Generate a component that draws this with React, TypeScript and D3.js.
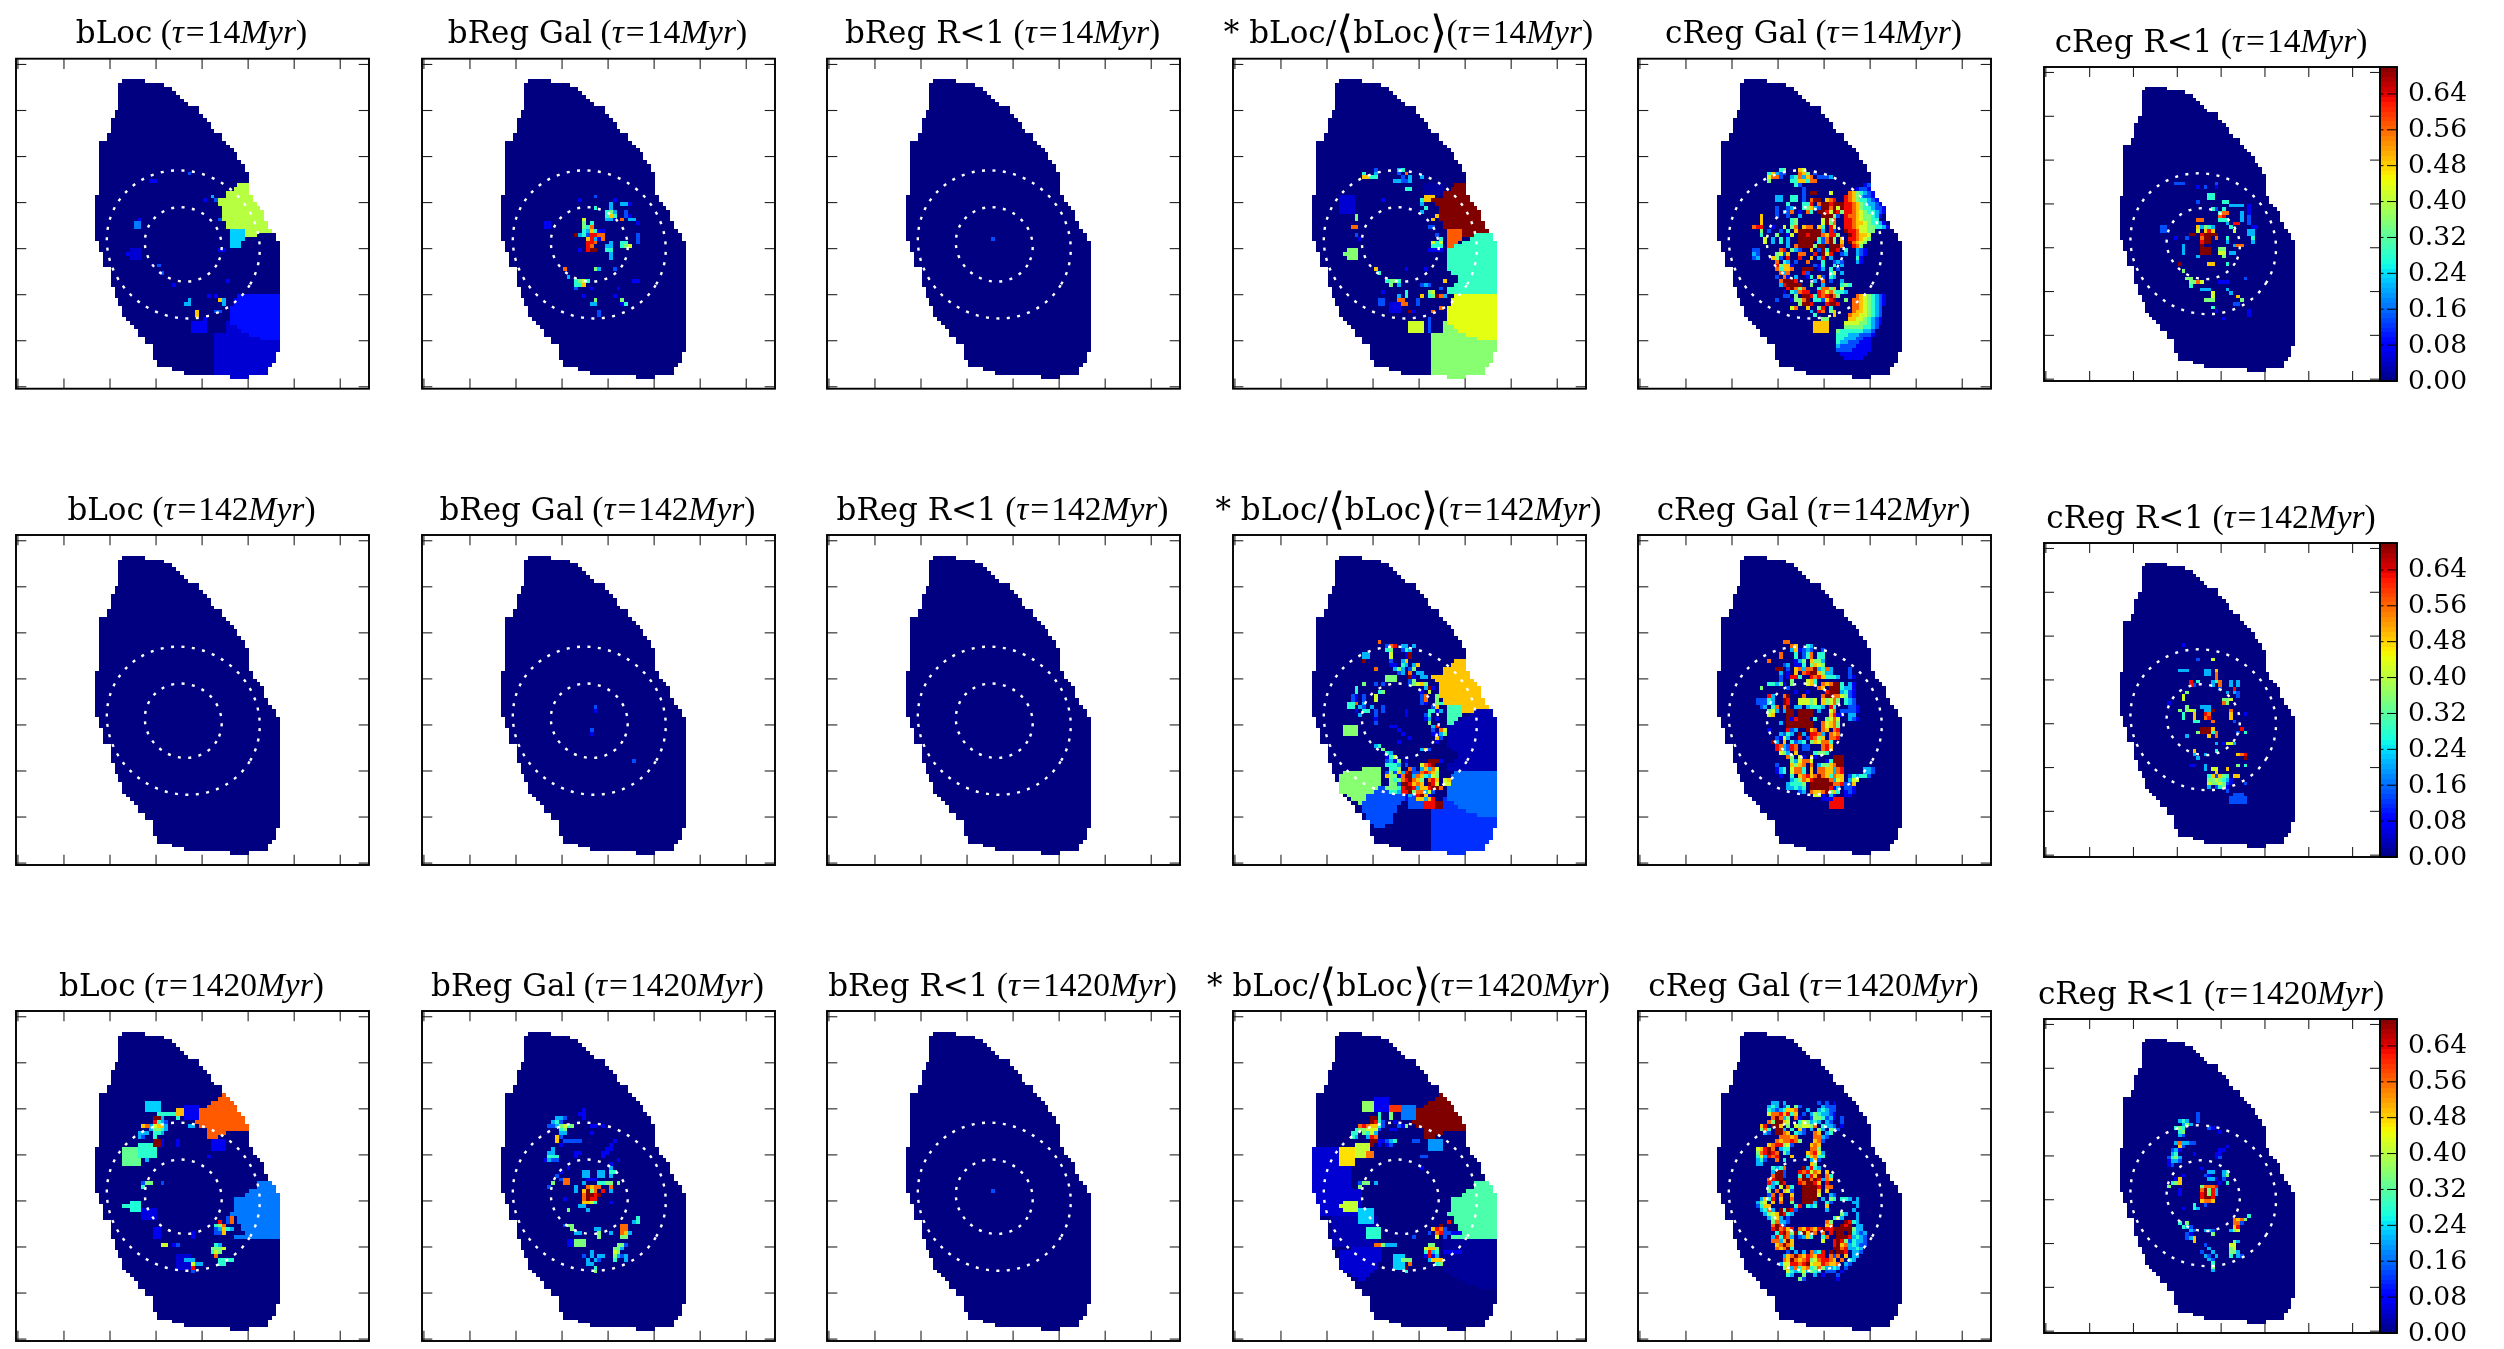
import React from "react";
import * as d3 from "d3";

// ---------- labels ----------
const panelNames = ["bLoc", "bReg Gal", "bReg R<1", "* bLoc/\u27E8bLoc\u27E9", "cReg Gal", "cReg R<1"];
const tauLabels = ["14", "142", "1420"];
const colorbarTicks = [0, 0.08, 0.16, 0.24, 0.32, 0.4, 0.48, 0.56, 0.64];

// ---------- galaxy footprint: first column / end column per row, from row 5 ----------
const FIRST_ROW = 5;
const maskLeft = [27, 26, 26, 26, 26, 26, 26, 26, 25, 25, 24, 24, 24, 24, 23, 23, 21, 21, 21, 21, 21, 21, 21, 21, 21, 21, 21, 21, 21, 21, 20, 20, 20, 20, 20, 20, 20, 20, 20, 20, 20, 20, 21, 21, 21, 22, 22, 22, 22, 24, 24, 24, 24, 24, 25, 25, 25, 26, 26, 27, 27, 27, 28, 29, 30, 31, 31, 33, 33, 35, 35, 35, 35, 36, 36, 40, 43, 55];
const maskRight = [33, 38, 40, 41, 42, 43, 44, 47, 47, 48, 49, 50, 50, 51, 53, 53, 54, 55, 56, 57, 57, 58, 59, 59, 60, 60, 60, 60, 60, 60, 61, 61, 62, 63, 64, 64, 64, 65, 65, 66, 67, 67, 68, 68, 68, 68, 68, 68, 68, 68, 68, 68, 68, 68, 68, 68, 68, 68, 68, 68, 68, 68, 68, 68, 68, 68, 68, 68, 68, 68, 68, 67, 67, 67, 66, 65, 65, 60];

// ---------- binned regions (row, first col, last col) ----------
type Span = [number, number, number];
const regTopRight: Span[] = [[32, 57, 59], [33, 56, 60], [34, 54, 60], [35, 54, 61], [36, 51, 61], [37, 52, 62], [38, 53, 63], [39, 53, 63], [40, 53, 64], [41, 53, 64], [42, 54, 65], [43, 54, 65], [44, 59, 65], [45, 59, 61]];
const regSmall: Span[] = [[44, 55, 58], [45, 55, 58], [46, 55, 58], [47, 55, 57], [48, 55, 57]];
const regRight: Span[] = [[45, 62, 68], [46, 61, 68], [47, 59, 68], [48, 57, 68], [49, 55, 68], [50, 55, 68], [51, 55, 68], [52, 55, 68], [53, 55, 68], [54, 55, 68], [55, 56, 68], [56, 58, 68], [57, 58, 68], [58, 57, 68], [59, 55, 68], [60, 55, 68]];
const regLowRight: Span[] = [[61, 57, 68], [62, 56, 68], [63, 56, 68], [64, 55, 68], [65, 55, 68], [66, 55, 68], [67, 55, 68], [68, 55, 68], [69, 57, 68], [70, 58, 68], [71, 60, 68], [72, 63, 68]];
const regBottom: Span[] = [[68, 54, 54], [69, 54, 56], [70, 54, 57], [71, 51, 59], [72, 51, 62], [73, 51, 68], [74, 51, 68], [75, 51, 68], [76, 51, 68], [77, 51, 68], [78, 51, 68], [79, 51, 68], [80, 51, 68], [81, 51, 68], [82, 51, 68]];
const regLeftBlob: Span[] = [[60, 33, 37], [61, 28, 37], [62, 27, 37], [63, 27, 37], [64, 27, 37], [65, 27, 36], [66, 27, 36], [67, 29, 35], [68, 30, 34], [69, 32, 33], [70, 33, 33]];
const regLowBlue: Span[] = [[65, 37, 42], [66, 36, 45], [67, 34, 48], [68, 34, 46], [69, 33, 42], [70, 33, 41], [71, 33, 41], [72, 34, 40], [73, 34, 40], [74, 34, 40], [75, 36, 38]];
const regTop1420: Span[] = [[21, 53, 53], [22, 52, 54], [23, 50, 55], [24, 49, 56], [25, 47, 57], [26, 46, 58], [27, 46, 59], [28, 46, 59], [29, 47, 60], [30, 49, 60], [31, 49, 53], [32, 49, 51]];
const regRight1420: Span[] = [[44, 62, 67], [45, 62, 67], [46, 60, 68], [47, 59, 68], [48, 56, 68], [49, 56, 68], [50, 56, 68], [51, 56, 68], [52, 55, 68], [53, 57, 68], [54, 57, 68], [55, 58, 68], [56, 58, 68], [57, 59, 68], [58, 56, 68]];
const regLeft1420: Span[] = [[35, 20, 26], [36, 20, 26], [37, 20, 26], [38, 20, 30], [39, 20, 30], [40, 20, 29], [41, 20, 29], [42, 20, 29], [43, 20, 29], [44, 20, 29], [45, 20, 29], [46, 20, 32], [47, 20, 32], [48, 20, 32], [49, 20, 32], [50, 21, 32], [51, 22, 32], [52, 22, 32]];
const regLow1420: Span[] = [[61, 30, 37], [62, 27, 37], [63, 27, 37], [64, 27, 37], [65, 27, 36], [66, 27, 36], [67, 28, 35], [68, 30, 34], [69, 32, 33]];
const regWide1420: Span[] = [[59, 54, 68], [60, 54, 68], [61, 54, 68], [62, 54, 68], [63, 54, 68], [64, 54, 68], [65, 54, 68], [66, 54, 68], [67, 54, 68], [68, 56, 68], [69, 58, 68], [70, 60, 68], [71, 63, 68]];
const box = (r0: number, r1: number, c0: number, c1: number): Span[] =>
  d3.range(r0, r1 + 1).map((r) => [r, c0, c1] as Span);

type Patch = [number, Span[]];

// ---------- cell readings: "row col:levels ..." levels 1..9,a ----------
const bLoc14Patches: Patch[] = [[0.095, regLowRight], [0.05, regBottom], [0.4, regTopRight], [0.23, regSmall], [0.07, box(68, 70, 45, 48)], [0.17, box(42, 43, 30, 31)], [0.05, box(49, 51, 29, 31)]];
const bLoc14 = ["29 44:2", "31 34:11", "35 50:3", "36 48:1 51:2", "41 31:1 52:2", "50 28:1", "49 52:11", "53 36:2", "55 37:2", "58 40:1", "57 54:1", "61 49:1 51:1", "62 44:3 52:73 56:1", "63 43:33 53:3", "65 46:7 51:22", "66 46:7", "67 48:1"];

const bReg14 = ["35 44:2", "36 40:1 49:1", "37 48:3 51:33 53:1", "38 44:4 48:3", "39 47:453 52:2", "40 47:474 52:2 53:1", "41 41:6 47:33 49:1 51:8 53:33", "42 31:11 41:5 43:4 55:1", "43 31:11 41:5 42:4 43:8", "44 41:43741 46:1", "45 39:a 40:342 43:9988 55:2", "46 42:7931 46:8 55:2", "47 42:998 48:3 51:44 55:2", "48 42:98 47:33 51:456", "49 42:9aa 47:44 40:1", "50 48:3", "51 48:3", "54 36:8 44:53 49:2", "56 37:3", "57 39:4564 54:11", "58 39:447", "59 39:2 50:1 43:1", "61 41:1 49:1", "62 44:5 51:5", "63 43:33 52:4 51:1", "65 45:2", "66 45:2"];

const bRegR14 = ["46 42:2"];

const ratio14Patches: Patch[] = [[0.7, regTopRight], [0.57, regSmall], [0.29, regRight], [0.36, regBottom], [0.44, regLowRight], [0.36, box(49, 51, 29, 31)], [0.05, box(35, 39, 27, 30)], [0.06, box(63, 65, 40, 42)], [0.42, box(68, 70, 45, 48)], [0.02, box(32, 34, 49, 53)]];
const ratio14 = ["28 36:2 42:34", "29 33:4 36:3 42:2 44:8", "30 33:7744 43:2 45:3 48:3", "31 41:33 43:223", "33 44:44", "35 49:777", "36 38:1 48:477", "37 48:3", "38 49:4", "39 48:3", "40 31:5 52:7", "41 31:5 51:7", "43 30:88 50:22", "45 31:2 52:2", "46 32:1 53:4", "47 51:646", "48 51:444", "49 50:1111", "50 28:5", "54 36:7 44:1 49:1", "55 37:4", "57 39:4554 54:7", "58 40:5 42:3 48:232", "59 53:2", "60 38:1 50:56 44:4", "61 42:3 44:4 48:7 50:45 52:a 53:83", "62 37:22 42:88 47:2", "63 37:22 43:88 47:2", "64 53:8", "65 45:a1 51:8", "67 50:2", "68 50:2", "69 50:2", "70 50:2"];

const cGal14 = [
  "28 36:45 41:76", "29 33:47322 41:875 45:2", "30 33:6882 39:34 41:8378 46:2223", "31 33:5 39:44 41:7744 44:88",
  "32 41:2 40:4", "33 42:2", "34 42:2 44:aa 49:6", "35 35:33 39:44 42:2", "36 35:33 39:44 42:2 44:88 45:aa 48:789", "37 38:4 42:44 44:9 46:8 47:aa 49:9 50:aa 52:a",
  "38 35:2 38:23 42:457 45:3 46:2 47:aa 49:8 50:a 51:6 52:a", "39 35:2 37:3 38:2 39:8 41:1 43:8 44:4 46:aa 48:96 50:a 51:95", "40 31:7 35:2 38:2 41:3 47:aaa 50:52", "41 31:7 39:45 47:6 48:a 49:5 50:8", "42 31:7 39:45 47:6 48:a 49:5 50:8",
  "43 29:899 34:1 37:6 39:58 42:788 46:74 49:96", "44 31:5 33:2 36:2 38:4 40:7aaaa7 45:aa 47:3 49:92", "45 31:4 35:5 38:1 39:6 41:aa9a 45:aa 47:8799 51:5", "46 32:6 34:3 36:4 38:3 41:aa 43:a 44:a 45:a 46:42 48:8a5 52:7", "47 32:6 34:3 36:4 38:3 41:aa 43:a 44:a 46:42 48:8a5 52:7",
  "48 38:3 40:8aaa 44:a 45:5 46:a 47:a 49:aaa8", "49 29:22 36:89 39:53 41:2 44:7 46:2 47:a 48:4 49:aa9 53:4", "50 29:32 35:562 38:7 41:88 45:9 47:a6 49:9 52:2 53:3", "51 29:23 34:752 38:9 41:9 44:7 46:39 49:3", "52 35:8 37:43 40:2 43:8 47:4 50:232",
  "53 35:9577 39:1 45:21 47:4 50:4 52:3", "54 35:84778 42:aaa 46:1 47:3 49:4 51:2", "55 36:838 42:92 49:46 52:3", "56 35:2 37:81 40:3 43:14 46:72 49:43", "57 36:8aaa9 45:3 47:8 49:2 52:3",
  "58 36:39aaaa 44:5 47:3 52:454", "59 38:9a858 46:4 47:88 49:57 52:6", "60 40:3599 46:986854 52:43", "60 37:1 39:4 41:8 42:99", "61 37:2 38:2 40:5 42:aa9 45:4 46:9 47:8 48:9a85",
  "62 35:2 39:1 40:55 42:8a 45:44 47:2 48:79a 53:5", "63 41:5 42:aa9 48:9aa9", "64 39:6 40:8 43:7 46:5 47:9 49:4", "65 44:3 46:9 47:8 49:57", "66 50:7 45:4", "67 47:55", "68 45:7777", "69 45:7777", "70 45:7777",
  "32 58:12", "33 56:1221", "34 54:8754321", "35 53:98753221", "36 53:987544321", "37 53:9987543321", "38 53:99875443221", "39 53:99876544321", "40 53:9887655431", "41 53:998765544", "42 53:99877654431", "43 53:998766554431", "44 53:a9986655", "45 54:a98776", "46 54:998765", "47 54:a8765", "48 55:985", "49 56:321", "50 56:321", "51 56:41", "52 56:31",
  "61 56:87654321", "62 55:887654321", "63 55:887654321", "64 55:88765432", "65 55:87765432", "66 54:877665432", "67 54:776654321", "68 53:6666554321", "69 53:555554432", "70 51:5444444332", "71 51:4443332221", "72 51:443332211", "73 51:433222111", "74 51:322221111", "75 51:222211111", "76 52:1111111", "77 53:11111",
];

const cR14 = ["31 35:222 46:2", "32 41:1 43:2 46:1", "34 44:44", "35 44:44", "36 41:2 48:4 49:4", "37 50:333 53:3 55:1", "38 45:4 48:4 55:1 46:2", "39 47:488 53:3 55:1", "40 47:89 53:3 55:2", "41 41:88 47:444 53:3 55:2", "42 51:99 49:3 55:2", "43 31:22 41:73543 50:4 56:11", "44 31:22 41:6 43:797 51:6 55:33", "45 39:aa 42:9aaaa 55:33", "46 35:1 38:2 42:8aa 46:8 49:4 56:4", "47 42:9aa 49:3 56:3", "48 42:a 51:388 37:3", "49 37:3 42:aaa 47:55", "50 37:3 42:aaa 47:66 50:33", "51 41:3 48:5", "53 36:a 44:77 49:4", "55 37:5", "57 38:55 54:2", "58 39:5586 47:111", "59 39:4", "60 42:33 44:3 49:3", "61 45:6 50:3", "62 45:6 52:7", "63 43:555 53:5", "64 51:22", "65 45:4", "66 46:1 55:1", "67 55:1", "68 48:1"];

const bReg142 = ["44 44:2", "45 44:1", "50 43:2", "51 43:1", "58 54:2"];

const ratio142Patches: Patch[] = [[0.49, regTopRight], [0.3, regSmall], [0.03, regRight], [0.16, regLowRight], [0.12, regBottom], [0.36, regLeftBlob], [0.14, regLowBlue], [0.14, box(68, 70, 45, 48)], [0.63, box(68, 70, 49, 51)], [0.7, box(69, 70, 52, 53)], [0.36, box(49, 51, 28, 31)]];
const ratio142 = ["27 37:8", "28 39:289 43:33 46:3", "29 39:45 43:243", "30 33:33 40:6 44:1 45:a", "31 33:33 40:6 44:1 45:a", "32 33:a 40:2 43:37", "33 40:11 43:43 46:37", "34 36:8 41:35 43:3 45:25", "35 42:23 45:8 47:33", "36 39:555 45:a1 48:33", "37 39:555 45:25", "38 33:5 36:2 38:2 45:2567 49:5", "39 31:4 49:3 50:a1", "40 31:4 37:45 48:1 50:6", "41 30:21 33:2 36:6 48:28 52:5", "42 30:21 33:2 36:6 48:28 52:5", "43 29:448 33:3 48:21 52:54", "44 29:44 32:32 35:3 38:2 51:27", "45 31:1 33:44 36:2 38:2 44:1 50:441 53:3", "46 32:3 36:2 44:1 49:24", "47 36:1 49:13 52:1", "48 36:2 50:5", "49 40:11 51:39", "50 42:1 51:2 53:86", "51 43:1 51:11 53:35", "52 45:1 52:72", "53 42:1 52:1", "54 36:34", "55 38:5 48:372", "56 39:43", "57 39:146", "58 39:231 42:5 44:1 50:aaa1", "59 39:4443 44:2 48:689a", "60 40:445 45:82 48:37 50:386", "61 39:25 41:27 43:39a 46:22 48:89875", "62 39:7551 43:8aa 46:38 48:743 51:65", "63 40:545 43:89a 46:87 48:5 50:897 54:67", "64 40:55 42:2 43:aa9 46:78 48:7 50:a96 54:66", "65 39:5554 43:9aa 46:93 48:7 49:7 50:9aa8", "66 40:443 43:99a 46:588 49:3 50:62", "67 44:13 47:9a7 50:1", "68 44:12 46:2 47:773 50:7"];

const cGal142 = ["27 37:88", "28 39:87 43:43", "29 39:37122 43:32 47:2", "30 36:8 40:4 42:2 43:48 46:44", "31 36:8 40:4 42:2 43:48 46:44", "32 33:8 40:1 41:35 44:755 47:3", "33 37:23 40:11 42:4 44:5765", "34 35:aa 38:2 40:7 41:8 42:3 43:88a 46:3483 54:2", "35 36:3 38:1 40:7 42:89aa 46:7533 54:2", "36 36:2 38:1 39:994 44:98973 48:4 49:4 50:43 54:21", "37 36:2 39:5 43:67 45:4", "38 33:4435 37:1 39:5 43:674 47:87 49:8 50:aa 52:4 54:31", "39 31:5 38:2 46:87 49:aaa 52:433 55:1", "40 40:1 43:1 48:9 49:aaa 52:34 54:21", "41 33:93 37:8a 42:8 47:8 48:aa 50:88 52:65 54:21", "42 30:222 33:43 37:a9 41:66 43:65 45:6 47:75 49:685 53:43 55:2", "43 30:222 33:43 37:a9 41:66 43:65 45:6 47:75 49:685 53:43 55:2", "44 31:23 34:48 37:8a 40:33 43:3444 47:3 49:94 54:22 56:1", "45 33:563 37:3aa 41:aaaa 46:3 49:68 52:2222 56:1", "46 33:67 38:aa 41:aaaa 49:79 51:11 54:33", "47 38:a19 41:aaa 45:4 48:568 51:6 54:32 56:1", "48 36:3 38:aaaaaaa 47:8678 51:5", "49 38:aaaaaaa 47:8678 51:5", "50 33:1 38:923 43:a78 47:87 50:89", "51 36:3243 41:a3 44:998 47:3 49:878", "52 35:2163 41:9 43:2 44:9 45:85 47:7 49:889", "53 34:a3 37:7 39:42 41:34 44:576 47:8 48:84", "54 35:9 36:8 37:32 39:98 42:22 47:89 49:7", "55 35:9 36:8 37:32 39:98 42:22 47:8 48:97", "56 36:653 40:7 45:4554", "57 38:85 41:61 44:71 50:aaa", "58 39:5 40:3 41:688 44:6 48:14 50:aaa", "59 35:2 39:757 42:8 44:8 46:3 47:5579 50:8aa", "60 35:1 36:34 39:688 42:4 44:7 46:8877 50:3 51:89 58:332", "61 35:1 36:34 39:688 42:4 44:7 46:8877 50:3 51:89 58:332", "62 36:1 39:4 41:789 44:78 46:a8 48:7 49:4 50:877 54:24 56:344 59:2", "63 39:3 40:458 43:79 45:aaaa 49:83 51:67 54:3 55:66", "64 38:34445 44:aaaaaa 50:889 53:22 55:7", "65 38:3343 42:4 44:aaaaa 49:9 50:13 53:221", "66 41:23 44:8778 48:a5 50:74 53:121", "67 45:66 47:1 49:31 53:11", "68 47:111 50:999", "69 49:9999", "70 49:9999"];

const cR142 = ["27 37:1", "31 41:2 45:6", "34 36:333 43:33 46:7", "35 43:33 46:8", "36 46:8", "37 39:9 41:4 45:348 50:3 52:3", "38 39:92 45:3 47:8 50:3 52:3", "39 47:2 51:9", "40 38:5 49:3 51:32", "41 37:6 52:2", "42 37:6 48:556", "43 33:1 48:85", "44 38:5 42:333", "45 36:5 38:565 43:33 45:a 50:8", "46 37:4 40:7 43:98 50:7 54:1", "47 37:4 40:7 43:89 50:7", "48 40:44 45:8 51:2", "50 42:aaa 45:7 53:9", "51 41:5 42:aaa 45:4 46:8 52:2 54:4", "52 38:3 44:7 46:8", "54 46:3 48:11 49:66 51:3", "56 40:7 46:4", "57 40:3 43:3 52:789", "58 41:3 54:a", "60 39:11 43:3 52:5 54:4", "61 43:3 45:6 46:6 49:7", "62 46:7", "63 44:47 46:2 47:75 49:4 51:77", "64 44:5565 48:431", "65 44:655 47:6 48:521 54:2", "66 44:3 46:2 47:4 48:51", "67 49:2", "68 51:222", "69 50:22222", "70 50:22222"];

const bLoc1420Patches: Patch[] = [[0.57, regTop1420], [0.17, regRight1420], [0.07, box(33, 35, 50, 53)], [0.23, box(23, 25, 33, 36)], [0.07, box(24, 27, 43, 46)], [0.5, box(25, 26, 41, 42)], [0.33, box(35, 39, 27, 31)], [0.28, box(34, 37, 31, 35)], [0.27, box(49, 51, 29, 31)], [0.06, box(51, 53, 32, 35)], [0.05, box(63, 66, 41, 44)]];
const bLoc1420 = ["26 36:44444", "27 35:aa 37:3 41:4", "28 35:9432", "29 32:78 34:3 35:6773 44:33", "30 34:35543", "31 31:333 35:443", "32 31:32 35:4", "33 35:aa 37:1 41:1", "34 35:aa 37:1 41:1", "38 33:3", "37 49:1", "44 32:2 33:55 37:2", "45 32:4", "50 27:44", "53 54:2 55:8", "54 54:2 55:8 52:9", "55 51:458", "56 51:23 53:743", "57 51:22 53:7 45:1", "58 45:1", "56 35:11", "57 35:11", "58 35:11", "60 37:66 40:12", "60 51:43", "61 50:5556", "62 50:465", "63 51:8", "64 43:333 52:4444", "65 45:633 52:44", "66 45:9", "67 45:2"];

const bReg1420 = ["25 41:1", "26 40:11", "27 34:332 41:1", "28 33:342", "29 32:22 34:3 35:5645 43:11 46:1", "30 35:45", "31 35:33 43:1", "32 34:7 35:2", "33 34:7 36:22222 49:1", "34 35:1 48:1", "35 33:3 47:11", "36 32:33 39:11 46:11", "37 32:444 39:1 46:1", "38 31:1 32:322 50:1", "39 48:1", "40 37:1 48:3", "41 35:1 41:33 45:33 48:44", "42 34:2 41:33 45:33 48:3", "43 35:2 36:88 42:111", "44 33:5 36:88 41:3 45:44 47:55 50:5", "45 32:2 39:3 42:8788 48:8", "46 39:3 41:7a58 46:9 48:3", "47 41:8aa9a", "48 36:1 41:8a99 44:9", "49 41:7764 44:4 48:1", "50 40:33", "51 37:5 42:3", "53 55:4", "54 54:34", "55 36:25 38:5 51:88", "56 38:5 44:33 51:88", "57 39:33 45:5 48:3 51:873", "58 45:5 51:55", "59 37:11 39:555", "60 37:11 39:555 50:55 52:2", "61 49:55 51:3", "62 43:3 49:65", "63 41:2 43:3 45:33 49:53 51:23", "64 42:3 44:32 49:4 52:3", "65 42:33", "66 44:4", "67 44:5"];

const bRegR1420 = ["46 42:2"];

const ratio1420Patches: Patch[] = [[0.7, regTop1420], [0.31, regRight1420], [0.05, regLeft1420], [0.05, regLow1420], [0.015, regWide1420], [0.03, box(53, 60, 25, 36)], [0.19, box(33, 35, 50, 53)], [0.37, box(23, 25, 33, 36)], [0.07, box(22, 25, 36, 39)], [0.6, box(24, 25, 40, 42)], [0.17, box(24, 27, 43, 46)], [0.47, box(35, 39, 27, 30)], [0.41, box(34, 37, 31, 34)], [0.55, box(36, 37, 34, 35)], [0.41, box(49, 51, 28, 31)], [0.23, box(51, 54, 32, 35)], [0.23, box(63, 66, 41, 43)]];
const ratio1420 = ["26 37:4 40:5", "27 35:aa 37:4 40:5", "28 35:a942 41:1", "29 32:8987742 42:215", "30 31:455666 37:2 40:11", "31 30:44 33:5463", "32 30:43 34:398", "33 35:aa 37:11234 46:22", "34 35:a 37:1 39:12", "37 48:22", "40 48:1", "44 36:3 33:55 32:2", "45 32:5", "50 27:6", "54 55:9", "55 53:a", "56 34:4444 51:7982", "57 34:4444 50:2 52:89 54:22111", "58 34:4444 46:2 52:6 54:2", "60 36:885 39:333 50:55", "61 49:6775", "62 49:4934 54:11111", "63 49:19 51:13", "64 43:555 50:3 51:777", "65 45:8 52:45", "66 44:a", "67 44:4"];

const cGal1420 = ["23 34:33 37:3 46:2 48:2 50:1", "24 33:343 37:24 40:52 47:322 50:2", "25 33:4323477 40:8 43:3 46:34322", "26 33:6889 37:794 40:7 42:2 44:35433 49:21", "27 34:8a83 38:5 40:81 44:25542 49:31 52:2", "28 33:85aa76 41:465345 46:3 48:32 52:2", "29 31:79 34:aa7 38:5 40:6566 44:58 47:433 50:2 52:1", "30 31:584 35:aa3 39:4 41:72 44:3 46:53 49:542", "31 32:32 35:aa87 40:432 45:87 48:34", "32 36:8887 40:8 45:883 48:2", "33 35:878898 41:5 45:78 47:2", "34 33:78 35:99562 44:787", "35 30:679a8 36:344 44:885", "36 30:589a98 37:53 43:7896 47:3", "37 30:4639 34:89 39:7 43:478 46:44", "38 30:342 35:8 37:4 44:372", "39 30:33 44:75", "40 34:4348 42:a 43:394 46:3", "41 34:3aa2 41:98968 46:7 48:7", "42 34:8aa2 41:4a39 45:7a 48:84", "43 33:89aa 41:8aa8a9 47:3 48:87", "44 33:934 36:a9 41:98aa9 46:7 48:9", "45 33:43 36:6 38:84 42:aaaa9 48:88", "46 33:5 35:8 37:762 42:aaaa7 48:7", "47 33:28 36:8 39:7 42:aaaa6 49:32", "48 31:37 33:49 36:7 39:8 42:aaaa 47:3 49:54 52:44 54:3 56:3", "49 30:3 31:56 34:7 36:8 39:5 42:aaa3 48:42 55:33", "50 30:247 33:7 40:49 43:434 48:7 56:3", "51 31:3 32:48 34:3 36:a4a9 40:2 48:3 55:3", "52 32:3 33:567 36:a9 38:43 52:53 56:3", "53 33:357 36:3 38:2 50:463 56:3", "54 34:58 36:332 48:85 53:a94 56:3", "55 34:8a92 48:78 52:a9 54:a 56:33", "56 34:9a8979 41:8 42:7 43:98 45:79 47:a9 49:9aaa 53:a 54:a 55:5 56:33", "57 35:49a8 39:5a4 42:a7 44:a8 47:8 49:9 51:aa 54:a 55:4 56:323", "58 34:39 36:4 37:98 39:3 41:237 44:4 47:48 51:aa 53:a 54:9 55:3 56:43 58:2", "59 34:88 36:3 37:7a7 47:6 50:9a 52:95 54:2 55:43 57:32", "60 35:78a87 50:9a7 53:8 54:3 55:43 57:22", "61 35:878a4 50:aa8 53:9 54:3 55:34 57:3", "62 38:2 40:3 42:3 44:83 46:49 49:a 51:aa 53:9 55:33 57:2", "63 37:378a8 42:7 43:9 44:8 45:799 49:82 51:8 53:7 55:33", "64 37:87a87 42:89 44:56 46:899 49:87 52:8 54:4 55:3", "65 36:3 37:669 40:98 42:9a 44:677 47:987 50:78 53:3 54:2", "66 37:57 39:38 41:478 44:458 47:533 50:43 53:2", "67 38:643 41:463 44:543 48:22 50:2 52:1", "68 38:43 42:5 45:3 47:1 51:2", "69 41:52 51:1"];

const cR1420 = ["25 41:2", "26 41:2", "27 36:343 41:2", "28 37:353", "29 35:454 44:21", "30 36:45 47:1", "31 36:32", "33 35:383 38:322", "34 36:72 49:1", "35 34:23 36:1 47:11 48:1", "36 34:34 40:1 46:11", "37 33:2 34:453 46:12", "38 33:1 34:332", "39 33:12", "40 42:1", "41 44:33 48:34", "42 37:1 43:2 44:1 48:35", "43 35:1 36:7 44:331 48:2", "44 34:45 36:7 47:1 49:4", "45 33:5 42:58889", "46 36:1 42:8a59 46:3", "47 36:1 42:9a59 46:3", "48 42:9aa9", "49 42:7887", "50 43:2 40:4", "51 37:1 40:43", "53 55:4", "54 51:87 53:85", "55 36:4 38:5 51:88 53:2", "56 37:432 51:79", "57 39:32 43:332 50:356", "58 38:21 45:5", "59 38:23 40:7", "60 40:7 51:53", "61 43:2 50:6 51:6", "62 44:3 50:56", "63 42:2 45:3 50:553", "64 43:32 46:3 50:4 52:32", "65 44:32", "66 45:4", "67 45:5", "68 45:3"];

// ---------- panels, by row then column ----------
const patchesGrid: Patch[][][] = [
  [bLoc14Patches, [], [], ratio14Patches, [], []],
  [[], [], [], ratio142Patches, [], []],
  [bLoc1420Patches, [], [], ratio1420Patches, [], []],
];
const cellsGrid: string[][][] = [
  [bLoc14, bReg14, bRegR14, ratio14, cGal14, cR14],
  [[], bReg142, [], ratio142, cGal142, cR142],
  [bLoc1420, bReg1420, bRegR1420, ratio1420, cGal1420, cR1420],
];

// ---------- page layout ----------
const W = 2504, H = 1349;
const frameLeft = [16, 422, 827, 1233, 1638, 2044];
const frameTop = [58.7, 535, 1011];
const bigW = 353, bigH = 330, smallW = 336, smallH = 314;
const smallTop = [67, 543, 1019];
const cbW = 17;
const VMAX = 0.7;
const LEVELS = "0123456789a";

// ellipses in cell units: centre column, centre row, semi axes, angle
const ellipseCentre = [42.9, 48];
const ringRadii = [[20.3, 18.9], [10.2, 9.5]];
const ringAngle = 31.5;

const ramp = (pts: number[][]) =>
  d3.scaleLinear<number>().domain(pts.map((p) => p[0])).range(pts.map((p) => p[1])).clamp(true);
const jetR = ramp([[0, 0], [0.35, 0], [0.66, 1], [0.89, 1], [1, 0.5]]);
const jetG = ramp([[0, 0], [0.125, 0], [0.375, 1], [0.64, 1], [0.91, 0], [1, 0]]);
const jetB = ramp([[0, 0.5], [0.11, 1], [0.34, 1], [0.65, 0], [1, 0]]);
const colourScale = d3.scaleLinear().domain([0, VMAX]).range([0, 1]).clamp(true);
const jet = (v: number) => {
  const t = colourScale(v) as number;
  return d3.rgb(jetR(t) * 255, jetG(t) * 255, jetB(t) * 255).formatHex();
};

function parseCells(rows: string[]) {
  const out: { r: number; c: number; v: number }[] = [];
  rows.forEach((row) => {
    const [head, ...rest] = row.split(" ");
    rest.forEach((tok) => {
      const [c0, digits] = tok.split(":");
      [...digits].forEach((ch, i) => {
        const lvl = LEVELS.indexOf(ch);
        if (lvl > 0) out.push({ r: +head, c: +c0 + i, v: lvl * 0.07 });
      });
    });
  });
  return out;
}

function Title({ col, row, x, y }: { col: number; row: number; x: number; y: number }) {
  const nameSize = 31;
  const mathSize = 33.5;
  const math = { fontFamily: "'Liberation Serif'", fontSize: mathSize };
  const name = panelNames[col];
  return (
    <text x={x} y={y} textAnchor="middle" fontFamily="'DejaVu Serif'" fontSize={nameSize} fill="#000">
      {col === 3 ? (
        <>
          <tspan>* bLoc/</tspan>
          <tspan fontFamily="'Liberation Serif'" fontSize={44} dy={4}>{"\u27E8"}</tspan>
          <tspan dy={-4}>bLoc</tspan>
          <tspan fontFamily="'Liberation Serif'" fontSize={44} dy={4}>{"\u27E9"}</tspan>
          <tspan {...math} dy={-4}>(</tspan>
        </>
      ) : (
        <>
          <tspan>{name}</tspan>
          <tspan {...math}> (</tspan>
        </>
      )}
      <tspan {...math} fontStyle="italic">{"\u03C4"}</tspan>
      <tspan {...math} dx={2}>=</tspan>
      <tspan {...math} dx={2}>{tauLabels[row]}</tspan>
      <tspan {...math} fontStyle="italic">Myr</tspan>
      <tspan {...math}>)</tspan>
    </text>
  );
}

function Panel({ row, col }: { row: number; col: number }) {
  const small = col === 5;
  const left = frameLeft[col];
  const top = small ? smallTop[row] : frameTop[row];
  const w = small ? smallW : bigW;
  const h = small ? smallH : bigH;
  const x = d3.scaleLinear().domain([-0.7, 91.3]).range([left, left + w]);
  const y = d3.scaleLinear().domain([-0.4, 85.6]).range([top, top + h]);
  const cw = x(1) - x(0);
  const ch = y(1) - y(0);
  const tickLen = small ? 10 : 10.3;
  const xTicks = d3.range(-0.2, 91, 12);
  const yTicks = d3.range(85.1, 0, -12);
  const inMask = (r: number) => r >= FIRST_ROW && r - FIRST_ROW < maskLeft.length;

  const patchRects = patchesGrid[row][col].flatMap(([v, spans], pi) =>
    spans.filter((s) => inMask(s[0])).map(([r, c0, c1], i) => {
      const a = Math.max(c0, maskLeft[r - FIRST_ROW]);
      const b = Math.min(c1 + 1, maskRight[r - FIRST_ROW]);
      return b > a ? <rect key={`p${pi}-${i}`} x={x(a)} y={y(r)} width={x(b) - x(a)} height={ch} fill={jet(v)} /> : null;
    })
  );
  const cells = parseCells(cellsGrid[row][col]);

  return (
    <g>
      <g shapeRendering="crispEdges">
        {maskLeft.map((a, i) => (
          <rect key={i} x={x(a)} y={y(i + FIRST_ROW)} width={x(maskRight[i]) - x(a)} height={ch} fill={jet(0)} />
        ))}
        {patchRects}
        {cells.map((d, i) => (
          <rect key={`c${i}`} x={x(d.c)} y={y(d.r)} width={cw} height={ch} fill={jet(d.v)} />
        ))}
      </g>
      {ringRadii.map(([a, b], i) => (
        <ellipse
          key={i}
          cx={x(ellipseCentre[0])}
          cy={y(ellipseCentre[1])}
          rx={a * cw}
          ry={b * ch}
          transform={`rotate(${ringAngle} ${x(ellipseCentre[0])} ${y(ellipseCentre[1])})`}
          fill="none"
          stroke="#fff"
          strokeWidth={2.4}
          strokeDasharray="3 7.4"
        />
      ))}
      {xTicks.map((t) => (
        <g key={`x${t}`} stroke="#222" strokeWidth={1.1}>
          <line x1={x(t)} x2={x(t)} y1={top} y2={top + tickLen} />
          <line x1={x(t)} x2={x(t)} y1={top + h} y2={top + h - tickLen} />
        </g>
      ))}
      {yTicks.map((t) => (
        <g key={`y${t}`} stroke="#222" strokeWidth={1.1}>
          <line x1={left} x2={left + tickLen} y1={y(t)} y2={y(t)} />
          <line x1={left + w} x2={left + w - tickLen} y1={y(t)} y2={y(t)} />
        </g>
      ))}
      <rect x={left} y={top} width={w} height={h} fill="none" stroke="#000" strokeWidth={1.9} />
      <Title col={col} row={row} x={left + w / 2 - 1} y={top - 15.5} />
      {small && <Colorbar left={left + w} top={top} height={h} />}
    </g>
  );
}

function Colorbar({ left, top, height }: { left: number; top: number; height: number }) {
  const v = d3.scaleLinear().domain([0, VMAX]).range([top + height, top]);
  const steps = d3.range(0, VMAX - 1e-9, VMAX / 64);
  return (
    <g>
      <g shapeRendering="crispEdges">
        {steps.map((s) => (
          <rect key={s} x={left} y={v(s + VMAX / 64)} width={cbW} height={v(s) - v(s + VMAX / 64) + 0.5} fill={jet(s + VMAX / 128)} />
        ))}
      </g>
      {colorbarTicks.map((t) => (
        <g key={t}>
          <line x1={left} x2={left + 3.5} y1={v(t)} y2={v(t)} stroke="#000" strokeWidth={1} />
          <line x1={left + cbW - 10} x2={left + cbW} y1={v(t)} y2={v(t)} stroke="#000" strokeWidth={1} />
          <text x={left + cbW + 11} y={v(t) + 7.5} fontFamily="'DejaVu Serif'" fontSize={26.5} fill="#000">{t.toFixed(2)}</text>
        </g>
      ))}
      <rect x={left} y={top} width={cbW} height={height} fill="none" stroke="#000" strokeWidth={1.9} />
    </g>
  );
}

export default function App() {
  return (
    <svg width={W} height={H} viewBox={`0 0 ${W} ${H}`} style={{ position: "absolute", left: 0, top: 0, background: "#fff", filter: "blur(0.5px)" }}>
      {tauLabels.map((_, row) => panelNames.map((_, col) => <Panel key={`${row}-${col}`} row={row} col={col} />))}
    </svg>
  );
}
